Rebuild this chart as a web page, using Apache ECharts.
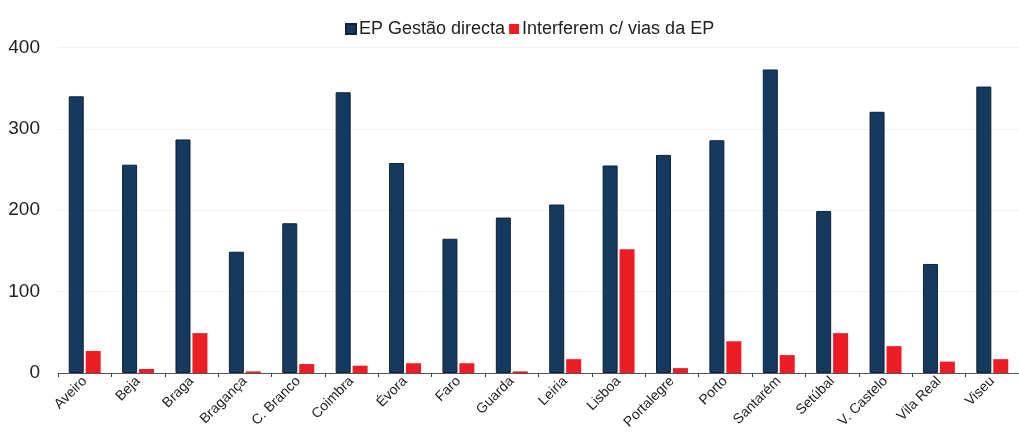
<!DOCTYPE html>
<html>
<head>
<meta charset="utf-8">
<script src="https://cdn.jsdelivr.net/npm/echarts@6/dist/echarts.min.js"></script>
<style>
  html, body { margin: 0; padding: 0; background: #fff; }
  #chart { width: 1019px; height: 434px; }
</style>
</head>
<body>
<div id="chart"></div>
<script>
// Districts along the x axis
const districts = ['Aveiro', 'Beja', 'Braga', 'Bragança', 'C. Branco', 'Coimbra', 'Évora', 'Faro', 'Guarda',
  'Leiria', 'Lisboa', 'Portalegre', 'Porto', 'Santarém', 'Setúbal', 'V. Castelo', 'Vila Real', 'Viseu'];

// Series values
const gestaoDirecta = [340, 256, 287, 149, 184, 345, 258, 165, 191, 207, 255, 268, 286, 373, 199, 321, 134, 352];
const interferem = [27, 5, 49, 2, 11, 9, 12, 12, 2, 17, 152, 6, 39, 22, 49, 33, 14, 17];

// Series names and y axis ticks
const seriesNames = ['EP Gestão directa', 'Interferem c/ vias da EP'];
const yTicks = { min: 0, max: 400, interval: 100 };

const font = '"Liberation Sans Narrow", "Liberation Sans", Arial, sans-serif';

const chart = echarts.init(document.getElementById('chart'));
chart.setOption({
  animation: false,
  backgroundColor: '#ffffff',
  legend: {
    top: 15,
    left: 340,
    itemWidth: 10,
    itemHeight: 10,
    itemGap: 4,
    icon: 'rect',
    textStyle: { fontFamily: font, fontSize: 18, color: '#222', padding: [0, 0, 0, -2] },
    data: seriesNames
  },
  grid: { left: 58, right: -11, top: 47.5, bottom: 61, containLabel: false },
  xAxis: {
    type: 'category',
    data: districts,
    axisLine: { show: true, lineStyle: { color: '#555', width: 1 } },
    axisTick: { show: true, alignWithLabel: false, length: 4, lineStyle: { color: '#444' } },
    axisLabel: {
      interval: 0,
      rotate: 45,
      margin: 6,
      fontFamily: font,
      fontSize: 14,
      color: '#222'
    }
  },
  yAxis: {
    type: 'value',
    min: yTicks.min,
    max: yTicks.max,
    interval: yTicks.interval,
    axisLine: { show: false },
    axisTick: { show: false },
    splitLine: { show: true, lineStyle: { color: '#f3f3f3', width: 1 } },
    axisLabel: { fontFamily: font, fontSize: 19, color: '#222', margin: 18 }
  },
  series: [
    {
      name: seriesNames[0],
      type: 'bar',
      data: gestaoDirecta,
      barWidth: 15,
      barGap: '13%',
      itemStyle: { color: '#163a5f', borderColor: '#0e2238', borderWidth: 1 }
    },
    {
      name: seriesNames[1],
      type: 'bar',
      data: interferem,
      barWidth: 15,
      itemStyle: { color: '#ee1d25' }
    }
  ]
});
</script>
</body>
</html>
